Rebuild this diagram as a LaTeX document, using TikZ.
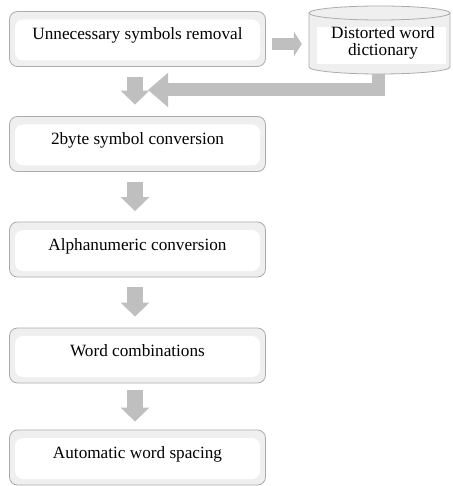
\documentclass[tikz,border=0pt]{standalone}
\usepackage{fontspec}
\setmainfont{LiberationSerif}[Extension=.ttf, UprightFont=*-Regular, BoldFont=*-Bold, ItalicFont=*-Italic, BoldItalicFont=*-BoldItalic]
\usetikzlibrary{arrows.meta,calc}
\definecolor{arrowgray}{HTML}{BFBFBF}
\definecolor{boxline}{HTML}{ABABAB}
\definecolor{boxfill}{HTML}{EFEFEF}
\begin{document}
\begin{tikzpicture}[x=1pt,y=-1pt,
  stepbox/.style={rectangle, rounded corners=8pt, draw=boxline, line width=0.8pt,
    fill=boxfill, minimum width=256pt, minimum height=55pt, inner sep=0pt,
    text height=12pt, text depth=10pt, font=\rmfamily\fontsize{17.2}{20}\selectfont,
    path picture={\fill[white] ([xshift=5.5pt,yshift=-8pt]path picture bounding box.north west)
      rectangle ([xshift=-5.5pt,yshift=6pt]path picture bounding box.south east);}},
  flow/.style={arrowgray, line width=16pt, -{Triangle[width=28pt,length=14pt]}},
  cyltext/.style={align=center, inner sep=0pt, font=\rmfamily\fontsize{17.2}{16.5}\selectfont}]
\useasboundingbox (0,0) rectangle (452,486);

% boxes
\node[stepbox] (b1) at (137.5,39) {Unnecessary symbols removal};
\node[stepbox] (b2) at (137.5,144) {2byte symbol conversion};
\node[stepbox] (b3) at (137.5,249.5) {Alphanumeric conversion};
\node[stepbox] (b4) at (137.5,355.5) {Word combinations};
\node[stepbox] (b5) at (137.5,457.5) {Automatic word spacing};

% cylinder (database)
\node[inner sep=0pt, minimum width=141pt, minimum height=68pt] (cyl) at (379.5,40) {};
\fill[boxfill] (309,13) -- (309,67) arc[start angle=180,end angle=0,x radius=70.5,y radius=7] -- (450,13) -- cycle;
\fill[white] (317,27) rectangle (446,64);
\draw[boxline, line width=0.8pt] (309,13) -- (309,67) arc[start angle=180,end angle=0,x radius=70.5,y radius=7] -- (450,13);
\filldraw[fill=boxfill, draw=boxline, line width=0.8pt] (379.5,13) ellipse [x radius=70.5, y radius=7];
\node[cyltext] (cylt) at (383,43) {Distorted word\\dictionary};

% connectors
\draw[arrowgray, line width=12pt, -{Triangle[width=25pt,length=8pt]}, shorten <=6.5pt, shorten >=7pt]
  ([yshift=-5pt]b1.east) -- ([yshift=-5pt]b1.east -| cyl.west);
\coordinate (ltip) at (148,90);
\draw[arrowgray, line width=13pt, line join=miter, -{Triangle[width=33pt,length=20pt]}]
  ([xshift=-1pt]cyl.south) |- (ltip);
\draw[flow, shorten <=10.5pt, shorten >=11.5pt] ([xshift=-2.5pt]b1.south) -- ([xshift=-2.5pt]b2.north);
\draw[flow, shorten <=10.5pt, shorten >=10.5pt] ([xshift=-2.5pt]b2.south) -- ([xshift=-2.5pt]b3.north);
\draw[flow, shorten <=10pt, shorten >=11pt] ([xshift=-2.5pt]b3.south) -- ([xshift=-2.5pt]b4.north);
\draw[flow, shorten <=7pt, shorten >=8pt] ([xshift=-2.5pt]b4.south) -- ([xshift=-2.5pt]b5.north);
\end{tikzpicture}
\end{document}
